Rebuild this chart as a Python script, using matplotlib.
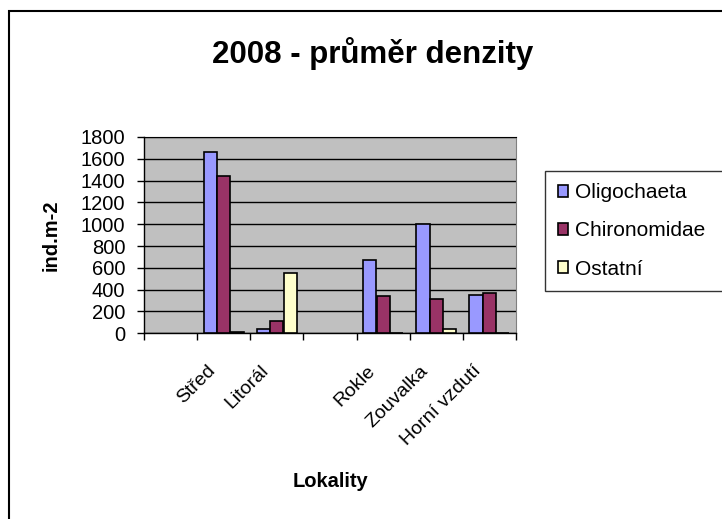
import numpy as np
import matplotlib.pyplot as plt
from matplotlib.patches import Rectangle
from matplotlib.transforms import ScaledTranslation, blended_transform_factory

plt.rcParams['font.family'] = ['Liberation Sans', 'DejaVu Sans']

# mean densities per site (ind.m-2), empty slots kept as in the sheet
lokality = ["", "Střed", "Litorál", "", "Rokle", "Zouvalka", "Horní vzdutí"]
oligochaeta = [np.nan, 1660, 40, np.nan, 670, 1000, 355]
chironomidae = [np.nan, 1440, 115, np.nan, 340, 315, 370]
ostatni = [np.nan, 15, 555, np.nan, 0, 37, 0]
series_names = ["Oligochaeta", "Chironomidae", "Ostatní"]
colors = ["#9999FF", "#993366", "#FFFFCC"]
yticks = list(range(0, 2000, 200))

fig = plt.figure(figsize=(7.22, 5.19), dpi=100)
ax = fig.add_axes([144 / 722, 1 - 333.3 / 519, 372 / 722, 196.3 / 519])
ax.set_facecolor("#C0C0C0")

x = np.arange(len(lokality))
w = 0.25
for k, (vals, name, c) in enumerate(zip([oligochaeta, chironomidae, ostatni], series_names, colors)):
    ax.bar(x + (k - 1) * w, vals, width=w, color=c, edgecolor="black", linewidth=1.2,
           label=name, zorder=3)

ax.set_xlim(-0.5, len(lokality) - 0.5)
ax.set_ylim(0, 1800)
ax.set_yticks(yticks)
ax.yaxis.grid(True, color="black", linewidth=1, zorder=1)
ax.tick_params(axis="y", direction="out", length=5, width=1, labelsize=14.5, pad=8.5)

# tick marks on category boundaries, labels drawn separately
ax.set_xticks(np.arange(-0.5, len(lokality)))
ax.set_xticklabels([])
ax.tick_params(axis="x", direction="out", length=5, width=1)

for s in ["left", "bottom"]:
    ax.spines[s].set_color("black")
    ax.spines[s].set_linewidth(1)
ax.spines["top"].set_color("black")
ax.spines["right"].set_color("#808080")

trans = blended_transform_factory(ax.transData, ax.transAxes) + \
    ScaledTranslation(-11 / 100, -35 / 100, fig.dpi_scale_trans)
for xi, lab in zip(x, lokality):
    if lab:
        ax.text(xi, 0, lab, transform=trans, rotation=45, ha="right", va="center",
                rotation_mode="anchor", fontsize=14)

fig.text(372.5 / 722, 1 - 63 / 519, "2008 - průměr denzity", ha="center", va="baseline",
         fontsize=22.5, fontweight="bold")
fig.text(331 / 722, 1 - 487 / 519, "Lokality", ha="center", va="baseline",
         fontsize=14.5, fontweight="bold")
fig.text(51 / 722, 1 - 235 / 519, "ind.m-2", ha="center", va="center", rotation=90,
         fontsize=14.5, fontweight="bold")

# legend box runs past the right edge of the figure
leg = fig.legend(loc="upper left", bbox_to_anchor=(545 / 722, 1 - 176 / 519, 0.27, 0.01),
                 mode="expand", frameon=True, fancybox=False, edgecolor="black", fontsize=15,
                 handlelength=0.5, handleheight=0.5, handletextpad=0.35,
                 labelspacing=0.92, borderpad=0.6, borderaxespad=0)
leg.get_frame().set_linewidth(1)
for h in leg.legend_handles:
    h.set_linewidth(1.2)

# outer chart frame
fig.add_artist(Rectangle((9 / 722, -0.1), 1.2, 1 - 11 / 519 + 0.1, transform=fig.transFigure,
                         fill=False, edgecolor="black", linewidth=1.5, clip_on=False))

fig.savefig("out.png", dpi=100)
